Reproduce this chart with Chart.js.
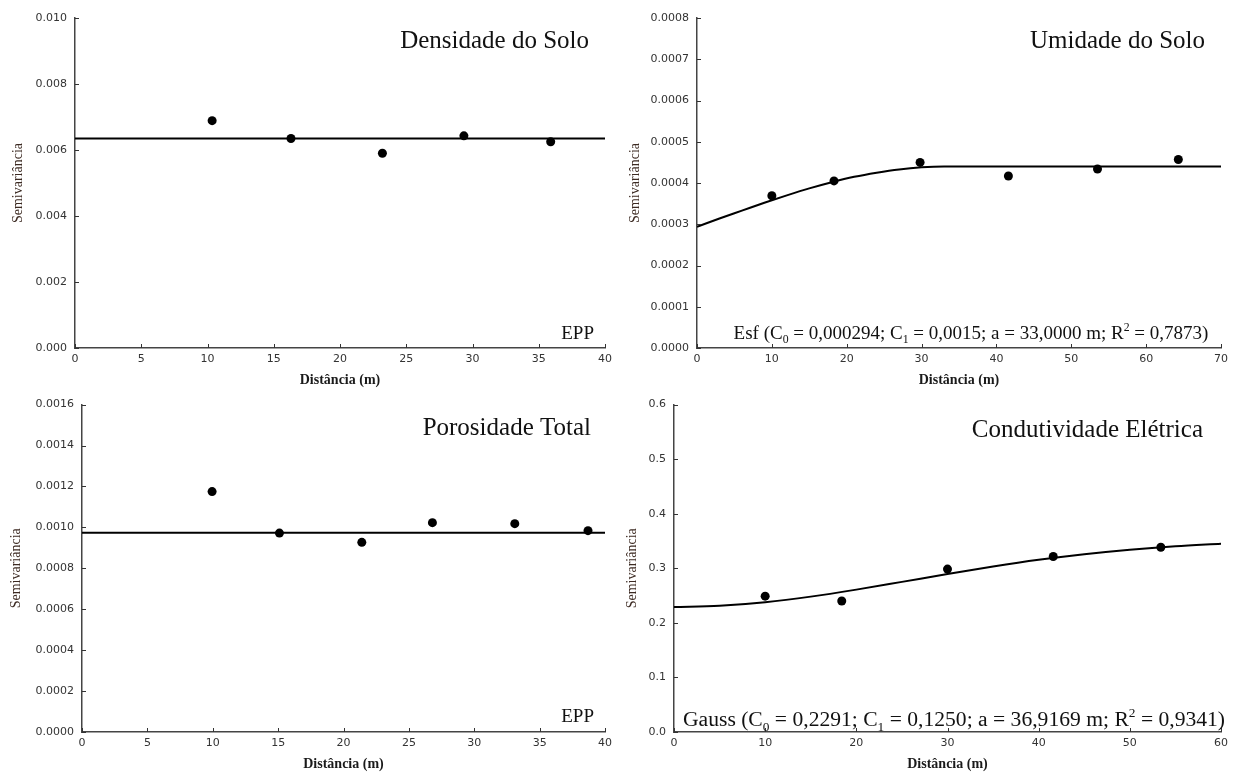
<!DOCTYPE html>
<html>
<head>
<meta charset="utf-8">
<script src="https://cdn.jsdelivr.net/npm/chart.js@4.4.1/dist/chart.umd.min.js"></script>
<style>
  html, body { margin: 0; padding: 0; background: #fff; }
  #wrap { position: relative; width: 1235px; height: 773px; overflow: hidden; background: #fff; }
  #wrap canvas { position: absolute; }
</style>
</head>
<body>
<div id="wrap">
  <canvas id="dens" width="617" height="390" style="left:0;top:0"></canvas>
  <canvas id="umid" width="618" height="390" style="left:617px;top:0"></canvas>
  <canvas id="poro" width="617" height="383" style="left:0;top:390px"></canvas>
  <canvas id="cond" width="618" height="383" style="left:617px;top:390px"></canvas>
</div>
<script>
// Densidade do Solo: experimental semivariogram and pure nugget (EPP) level
const densDist  = [10.35, 16.3, 23.2, 29.35, 35.9];
const densGamma = [0.00689, 0.00635, 0.00590, 0.00643, 0.00625];
const densModelDist  = [0, 40];
const densModelGamma = [0.00635, 0.00635];

// Umidade do Solo: experimental semivariogram and spherical model
const umidDist  = [10.0, 18.3, 29.8, 41.6, 53.5, 64.3];
const umidGamma = [0.000369, 0.000405, 0.000450, 0.000417, 0.000434, 0.000457];
const umidModelDist  = [0, 3, 6, 9, 12, 15, 18, 21, 24, 27, 30, 33, 70];
const umidModelGamma = [0.000294, 0.000314, 0.000333, 0.000352, 0.000370, 0.000387,
                        0.000402, 0.000415, 0.000425, 0.000433, 0.000438, 0.000440, 0.000440];

// Porosidade Total: experimental semivariogram and pure nugget (EPP) level
const poroDist  = [9.95, 15.1, 21.4, 26.8, 33.1, 38.7];
const poroGamma = [0.001175, 0.000972, 0.000927, 0.001023, 0.001018, 0.000984];
const poroModelDist  = [0, 40];
const poroModelGamma = [0.000974, 0.000974];

// Condutividade Elétrica: experimental semivariogram and Gaussian model
const condDist  = [10.0, 18.4, 30.0, 41.6, 53.4];
const condGamma = [0.249, 0.240, 0.2985, 0.3216, 0.3386];
const condModelDist  = [0, 5, 10, 15, 20, 25, 30, 35, 40, 45, 50, 55, 60];
const condModelGamma = [0.2291, 0.2314, 0.2379, 0.2481, 0.2609, 0.2751, 0.2895,
                        0.3032, 0.3155, 0.3258, 0.3341, 0.3405, 0.3452];

// Axis ranges: [max, step, decimals]
const densXAxis = [40, 5, 0];
const densYAxis = [0.010, 0.002, 3];
const umidXAxis = [70, 10, 0];
const umidYAxis = [0.0008, 0.0001, 4];
const poroXAxis = [40, 5, 0];
const poroYAxis = [0.0016, 0.0002, 4];
const condXAxis = [60, 10, 0];
const condYAxis = [0.6, 0.1, 1];

const SERIF = '"Liberation Serif", "Times New Roman", serif';
const SANS  = '"DejaVu Sans", Verdana, sans-serif';

function pairs(xs, ys) { return xs.map((x, i) => ({ x: x, y: ys[i] })); }

// Text made of runs; runs flagged sub/sup are drawn smaller and shifted.
function drawRich(ctx, runs, x, y, size, align) {
  const small = size * 0.62;
  const fontFor = r => (r.sub || r.sup ? small : size) + 'px ' + SERIF;
  let total = 0;
  runs.forEach(r => { ctx.font = fontFor(r); total += ctx.measureText(r.t).width; });
  let cx = align === 'center' ? x - total / 2 : (align === 'right' ? x - total : x);
  ctx.textAlign = 'left';
  ctx.textBaseline = 'alphabetic';
  runs.forEach(r => {
    ctx.font = fontFor(r);
    const dy = r.sub ? size * 0.22 : (r.sup ? -size * 0.42 : 0);
    ctx.fillText(r.t, cx, y + dy);
    cx += ctx.measureText(r.t).width;
  });
}

// Short tick marks pointing into the plot area, plus panel labels
const panelDecor = {
  id: 'panelDecor',
  afterDraw(chart, args, opts) {
    const ctx = chart.ctx;
    const a = chart.chartArea;
    const xs = chart.scales.x, ys = chart.scales.y;
    ctx.save();
    ctx.strokeStyle = '#333';
    ctx.lineWidth = 1;
    ctx.beginPath();
    ys.ticks.forEach(t => {
      const py = Math.round(ys.getPixelForValue(t.value)) + 0.5;
      ctx.moveTo(a.left, py); ctx.lineTo(a.left + 4, py);
    });
    xs.ticks.forEach(t => {
      const px = Math.round(xs.getPixelForValue(t.value)) + 0.5;
      ctx.moveTo(px, a.bottom); ctx.lineTo(px, a.bottom - 4);
    });
    ctx.stroke();

    ctx.fillStyle = '#111';
    ctx.font = opts.titleSize + 'px ' + SERIF;
    ctx.textAlign = 'right';
    ctx.textBaseline = 'alphabetic';
    ctx.fillText(opts.title, a.right - opts.titleRight, a.top + opts.titleBase);

    if (opts.note) {
      const n = opts.note;
      let nx;
      if (n.align === 'right') nx = a.right - n.dx;
      else if (n.align === 'center') nx = (a.left + a.right) / 2 + n.dx;
      else nx = a.left + n.dx;
      drawRich(ctx, n.runs, nx, a.bottom - n.dy, n.size, n.align);
    }
    ctx.restore();
  }
};

function makePanel(id, p) {
  new Chart(document.getElementById(id), {
    type: 'scatter',
    data: {
      datasets: [
        {
          data: p.model,
          showLine: true,
          borderColor: '#000',
          borderWidth: 2,
          pointRadius: 0,
          cubicInterpolationMode: 'monotone',
          fill: false,
          order: 2
        },
        {
          data: p.points,
          showLine: false,
          pointRadius: 4.5,
          pointBackgroundColor: '#000',
          pointBorderWidth: 0,
          order: 1
        }
      ]
    },
    options: {
      responsive: false,
      animation: false,
      layout: { padding: { top: p.padTop, right: p.padRight, left: 0, bottom: 0 } },
      plugins: {
        legend: { display: false },
        tooltip: { enabled: false },
        panelDecor: { title: p.title, titleSize: 25, titleRight: p.titleRight, titleBase: p.titleBase, note: p.note }
      },
      scales: {
        x: {
          type: 'linear',
          min: 0, max: p.xAxis[0],
          grid: { display: false, drawTicks: false },
          border: { display: true, color: '#444', width: 1.5 },
          ticks: {
            stepSize: p.xAxis[1], padding: 5, color: '#333',
            font: { family: SANS, size: 11 },
            callback: v => Number(v).toFixed(p.xAxis[2])
          },
          title: {
            display: true, text: 'Distância (m)', color: '#1a1a1a',
            font: { family: SERIF, size: 14, weight: 'bold' },
            padding: { top: 0, bottom: p.xTitlePad }
          },
          afterFit: s => { s.height = p.xAxisH; }
        },
        y: {
          type: 'linear',
          min: 0, max: p.yAxis[0],
          grid: { display: false, drawTicks: false },
          border: { display: true, color: '#444', width: 1.5 },
          ticks: {
            stepSize: p.yAxis[1], padding: 8, color: '#333',
            font: { family: SANS, size: 11 },
            callback: v => Number(v).toFixed(p.yAxis[2])
          },
          title: {
            display: true, text: 'Semivariância', color: '#3c2a22',
            font: { family: SERIF, size: 14 },
            padding: { top: p.yTitlePad, bottom: 0 }
          },
          afterFit: s => { s.width = p.yAxisW; }
        }
      }
    },
    plugins: [panelDecor]
  });
}

makePanel('dens', {
  points: pairs(densDist, densGamma),
  model: pairs(densModelDist, densModelGamma),
  xAxis: densXAxis, yAxis: densYAxis,
  yAxisW: 75, xAxisH: 42, padTop: 18, padRight: 11, yTitlePad: 10, xTitlePad: 1,
  title: 'Densidade do Solo', titleRight: 16, titleBase: 30,
  note: { runs: [{ t: 'EPP' }], size: 19, align: 'right', dx: 11, dy: 9 }
});

makePanel('umid', {
  points: pairs(umidDist, umidGamma),
  model: pairs(umidModelDist, umidModelGamma),
  xAxis: umidXAxis, yAxis: umidYAxis,
  yAxisW: 80, xAxisH: 42, padTop: 18, padRight: 14, yTitlePad: 10, xTitlePad: 1,
  title: 'Umidade do Solo', titleRight: 16, titleBase: 30,
  note: {
    runs: [
      { t: 'Esf (C' }, { t: '0', sub: true }, { t: ' = 0,000294; C' }, { t: '1', sub: true },
      { t: ' = 0,0015; a = 33,0000 m; R' }, { t: '2', sup: true }, { t: ' = 0,7873)' }
    ],
    size: 19, align: 'center', dx: 12, dy: 9
  }
});

makePanel('poro', {
  points: pairs(poroDist, poroGamma),
  model: pairs(poroModelDist, poroModelGamma),
  xAxis: poroXAxis, yAxis: poroYAxis,
  yAxisW: 82, xAxisH: 41, padTop: 13, padRight: 11, yTitlePad: 8, xTitlePad: 0,
  title: 'Porosidade Total', titleRight: 14, titleBase: 30,
  note: { runs: [{ t: 'EPP' }], size: 19, align: 'right', dx: 11, dy: 10 }
});

makePanel('cond', {
  points: pairs(condDist, condGamma),
  model: pairs(condModelDist, condModelGamma),
  xAxis: condXAxis, yAxis: condYAxis,
  yAxisW: 57, xAxisH: 41, padTop: 13, padRight: 14, yTitlePad: 7, xTitlePad: 0,
  title: 'Condutividade Elétrica', titleRight: 18, titleBase: 32,
  note: {
    runs: [
      { t: 'Gauss (C' }, { t: '0', sub: true }, { t: ' = 0,2291; C' }, { t: '1', sub: true },
      { t: ' = 0,1250; a = 36,9169 m; R' }, { t: '2', sup: true }, { t: ' = 0,9341)' }
    ],
    size: 21.6, align: 'left', dx: 9, dy: 6
  }
});
</script>
</body>
</html>
